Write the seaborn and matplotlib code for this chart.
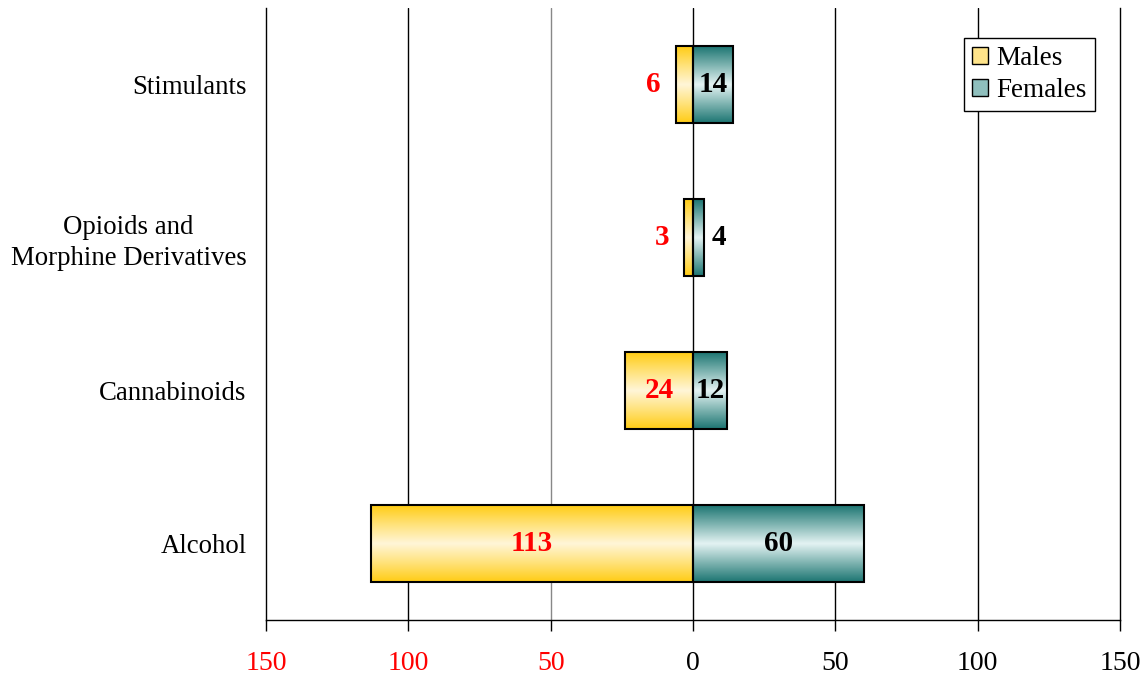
import numpy as np
import pandas as pd
import seaborn as sns
import matplotlib.pyplot as plt
from matplotlib.colors import LinearSegmentedColormap
from matplotlib.patches import Patch

# data (top to bottom as shown)
categories = ["Stimulants", "Opioids and\nMorphine Derivatives", "Cannabinoids", "Alcohol"]
males = [6, 3, 24, 113]
females = [14, 4, 12, 60]
xticks = [-150, -100, -50, 0, 50, 100, 150]
xtick_labels = ["150", "100", "50", "0", "50", "100", "150"]

df = pd.DataFrame({"category": categories, "males": males, "females": females})

sns.set_theme(style="white")
plt.rcParams["font.family"] = ["Liberation Serif", "DejaVu Serif"]

fig = plt.figure(figsize=(11.44, 6.76), dpi=100)
ax = fig.add_axes([266 / 1144, 56 / 676, 854 / 1144, 612 / 676])

# males drawn to the left (negative), females to the right
sns.barplot(data=df.assign(neg=-df["males"]), x="neg", y="category", orient="h",
            width=0.5, color="#FFE48A", edgecolor="black", linewidth=1.5, ax=ax, zorder=3)
n_male = len(ax.patches)
sns.barplot(data=df, x="females", y="category", orient="h",
            width=0.5, color="#8FBFBD", edgecolor="black", linewidth=1.5, ax=ax, zorder=3)

# vertical gradient fills clipped to each bar
male_cmap = LinearSegmentedColormap.from_list(
    "m", ["#FFCC14", "#FFE27A", "#FFF6D8", "#FFE27A", "#FFCC14"])
female_cmap = LinearSegmentedColormap.from_list(
    "f", ["#1C7572", "#7FB4B1", "#E4F3F3", "#7FB4B1", "#1C7572"])
grad = np.linspace(0, 1, 256).reshape(-1, 1)
for i, p in enumerate(ax.patches):
    cmap = male_cmap if i < n_male else female_cmap
    x0, y0 = p.get_x(), p.get_y()
    w, h = p.get_width(), p.get_height()
    p.set_facecolor("none")
    im = ax.imshow(grad, cmap=cmap, aspect="auto", zorder=2,
                   extent=[x0, x0 + w, y0 + h, y0], interpolation="bicubic")
    im.set_clip_path(p)

ax.set_xlim(-150, 150)
ax.set_ylim(3.5, -0.5)

# value labels (inside wide bars, next to narrow ones)
for i, (m, f) in enumerate(zip(males, females)):
    if m >= 10:
        ax.text(-m / 2, i, str(m), ha="center", va="center", color="red",
                fontsize=21, fontweight="bold", zorder=5)
    else:
        ax.annotate(str(m), (-m, i), xytext=(-11, 0), textcoords="offset points",
                    ha="right", va="center", color="red", fontsize=21, fontweight="bold", zorder=5)
    if f >= 10:
        ax.text(f / 2, i, str(f), ha="center", va="center", color="black",
                fontsize=21, fontweight="bold", zorder=5)
    else:
        ax.annotate(str(f), (f, i), xytext=(5, 0), textcoords="offset points",
                    ha="left", va="center", color="black", fontsize=21, fontweight="bold", zorder=5)

# grid lines
for t in xticks[1:-1]:
    ax.axvline(t, color="#888888" if t == -50 else "black", linewidth=1, zorder=1)

ax.set_xticks(xticks)
ax.set_xticklabels(xtick_labels, fontsize=20)
for lbl, t in zip(ax.get_xticklabels(), xticks):
    lbl.set_color("red" if t < 0 else "black")
ax.tick_params(axis="x", direction="out", length=8, width=1, color="black", pad=14, bottom=True)
ax.tick_params(axis="y", length=0, pad=14, labelsize=19.3, labelcolor="black")
for lbl in ax.get_yticklabels():
    lbl.set_multialignment("center")
    lbl.set_linespacing(1.3)
ax.set_xlabel("")
ax.set_ylabel("")

for side in ["left", "right", "bottom"]:
    ax.spines[side].set_color("black")
    ax.spines[side].set_linewidth(1)
ax.spines["top"].set_visible(False)

handles = [Patch(facecolor="#FFE48A", edgecolor="black", label="Males"),
           Patch(facecolor="#8FBFBD", edgecolor="black", label="Females")]
leg = ax.legend(handles=handles, loc="upper right", bbox_to_anchor=(0.9707, 0.951),
                borderaxespad=0, fontsize=19.5, fancybox=False, framealpha=1,
                edgecolor="black", handlelength=0.6, handleheight=0.6,
                handletextpad=0.3, labelspacing=0.25, borderpad=0.3,
                labelcolor="black")
leg.get_frame().set_linewidth(1)

fig.savefig("out.png", dpi=100)
